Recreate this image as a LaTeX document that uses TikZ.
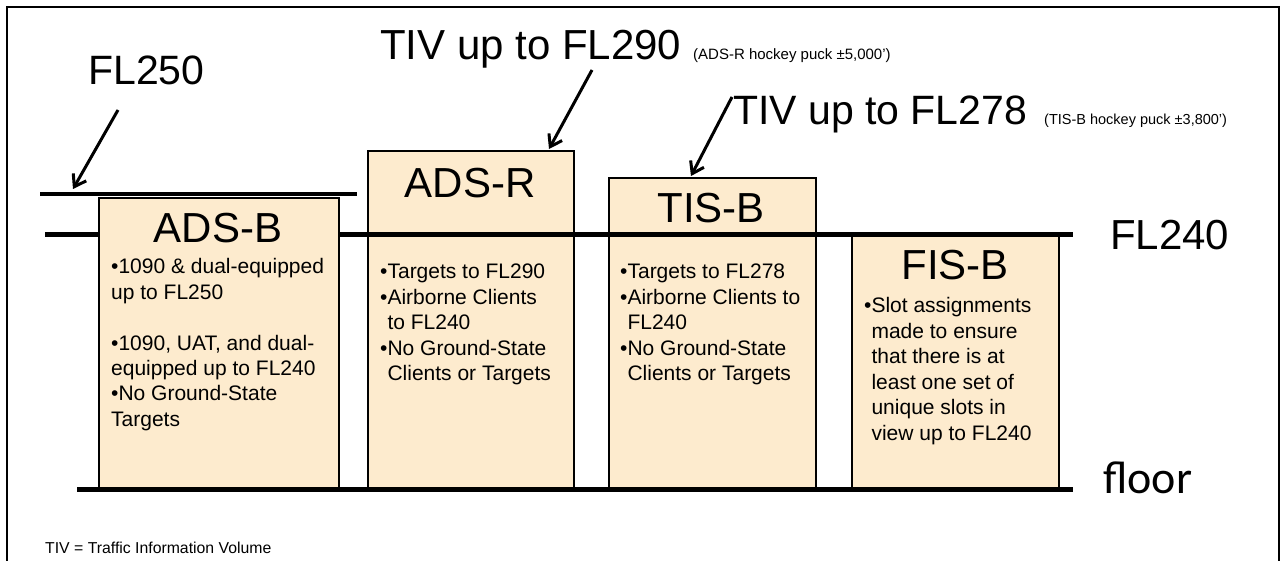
\documentclass[tikz,border=0pt]{standalone}
\usepackage{fontspec}
\setmainfont{Liberation Sans}
\newfontfamily\calibrifont{Carlito}
\usetikzlibrary{arrows.meta}
\definecolor{peach}{RGB}{253,235,206}
\newcommand\bl[1]{\hbox{#1}}
\newcommand\bodylines[1]{\vtop{\fontsize{21}{25.4}\selectfont #1}}
\tikzset{
  box/.style={draw=black, line width=2pt, fill=peach, anchor=north west, inner sep=0pt},
  level/.style={line width=5pt},
  pointer/.style={line width=3pt, -{Straight Barb[length=11pt,width=15pt,line width=3pt]}},
  title/.style={inner sep=0pt, anchor=base, font=\fontsize{42}{46}\selectfont},
  biglabel/.style={inner sep=0pt, anchor=base west, font=\fontsize{41}{46}\selectfont},
  smalllabel/.style={inner sep=0pt, anchor=base west, font=\fontsize{15}{18}\selectfont},
  body/.style={inner sep=0pt, anchor=base west}
}
\begin{document}
\begin{tikzpicture}[x=1pt,y=-1pt]
\useasboundingbox (0,0) rectangle (1280,561);
\clip (0,0) rectangle (1280,561);
% frame
\node[draw=black, line width=2pt, anchor=north west, minimum width=1272pt, minimum height=600pt, inner sep=0pt] (frame) at (6,6) {};
% boxes drawn under the FL240 line
\node[box, minimum width=206pt, minimum height=340pt] (adsr) at (367,150) {};
\node[box, minimum width=207pt, minimum height=313pt] (tisb) at (608,177) {};
\node[box, minimum width=207pt, minimum height=255pt] (fisb) at (851,235) {};
% FL240 line
\coordinate (fl240a) at (45,235);
\coordinate (fl240b) at (1073,235);
\draw[level] (fl240a) -- (fl240b);
% ADS-B box over it
\node[box, minimum width=240pt, minimum height=293pt] (adsb) at (98,197) {};
% FL250 line and floor
\coordinate (fl250a) at (40,194);
\coordinate (fl250b) at (357,194);
\draw[line width=4.5pt] (fl250a) -- (fl250b);
\coordinate (floora) at (77,489);
\coordinate (floorb) at (1073,489);
\draw[level] (floora) -- (floorb);
% titles
\node[title] (tadsb) at (218,243) {ADS-B};
\node[title] (tadsr) at (470,198) {ADS-R};
\node[title] (ttisb) at (711,223) {TIS-B};
\node[title] (tfisb) at (955,280) {FIS-B};
% body texts
\node[body] (badsb) at (111,274) {\bodylines{\bl{•1090 \& dual-equipped}\bl{up to FL250}\bl{}\bl{•1090, UAT, and dual-}\bl{equipped up to FL240}\bl{•No Ground-State}\bl{Targets}}};
\node[body] (badsr) at (380,279) {\bodylines{\bl{•Targets to FL290}\bl{•Airborne Clients}\bl{\hphantom{•}to FL240}\bl{•No Ground-State}\bl{\hphantom{•}Clients or Targets}}};
\node[body] (btisb) at (620,279) {\bodylines{\bl{•Targets to FL278}\bl{•Airborne Clients to}\bl{\hphantom{•}FL240}\bl{•No Ground-State}\bl{\hphantom{•}Clients or Targets}}};
\node[body] (bfisb) at (864,313) {\bodylines{\bl{•Slot assignments}\bl{\hphantom{•}made to ensure}\bl{\hphantom{•}that there is at}\bl{\hphantom{•}least one set of}\bl{\hphantom{•}unique slots in}\bl{\hphantom{•}view up to FL240}}};
% labels
\node[biglabel] (lfl250) at (88,85) {FL250};
\node[biglabel, font=\fontsize{42}{46}\selectfont] (ltiv290) at (380,60) {TIV up to FL290};
\node[smalllabel] (s290) at (693,60) {(ADS-R hockey puck ±5,000’)};
\node[biglabel] (ltiv278) at (733,125) {TIV up to FL278};
\node[smalllabel, font=\fontsize{14.5}{18}\selectfont] (s278) at (1044,125) {(TIS-B hockey puck ±3,800’)};
\node[biglabel, font=\fontsize{42}{46}\selectfont] (lfl240) at (1110,250) {FL240};
\node[inner sep=0pt, anchor=base west, font=\calibrifont\fontsize{46}{50}\selectfont] (lfloor) at (1103,493) {floor};
\node[inner sep=0pt, anchor=base west, font=\fontsize{15.8}{18}\selectfont] (note) at (45,553) {TIV = Traffic Information Volume};
% arrows
\coordinate (a1s) at (118,110);
\coordinate (a1e) at (73,189);
\draw[pointer] (a1s) -- (a1e);
\coordinate (a2s) at (592,70);
\coordinate (a2e) at (549,149);
\draw[pointer] (a2s) -- (a2e);
\coordinate (a3s) at (732,97);
\coordinate (a3e) at (691,176);
\draw[pointer] (a3s) -- (a3e);
\end{tikzpicture}
\end{document}
